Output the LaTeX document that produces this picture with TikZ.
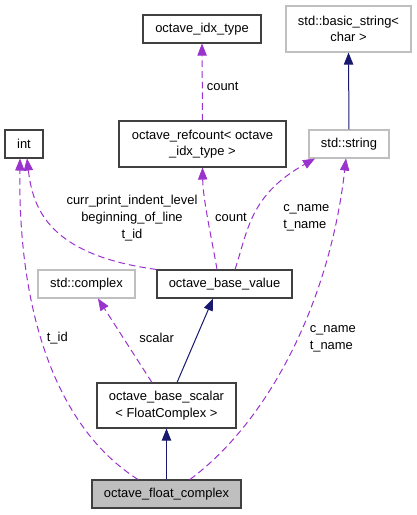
\documentclass[tikz,border=0pt]{standalone}
\usepackage{fontspec}
\setmainfont{Liberation Sans}
\usetikzlibrary{arrows.meta}
\definecolor{boxblack}{HTML}{404040}
\definecolor{boxgray}{HTML}{BFBFBF}
\definecolor{edgepurple}{HTML}{9A32CD}
\definecolor{edgenavy}{HTML}{191970}
\tikzset{
  box/.style={draw=boxblack, line width=0.8pt, inner sep=0pt, align=center,
    font=\fontsize{9.7}{12.5}\selectfont, minimum height=21pt},
  graybox/.style={box, draw=boxgray},
  lbl/.style={inner sep=0pt, font=\fontsize{9.7}{12.5}\selectfont},
  usage/.style={draw=edgepurple, line width=0.75pt, dash pattern=on 5pt off 3pt,
    -{Triangle[length=9pt,width=7pt,fill=edgepurple,line width=0.5pt,sep=0pt]}},
  inherit/.style={draw=edgenavy, line width=0.75pt,
    -{Triangle[length=9pt,width=7pt,fill=edgenavy]}},
}
\begin{document}
\begin{tikzpicture}[x=0.75pt,y=-0.75pt]
\useasboundingbox (0,0) rectangle (417,515);
% nodes
\node[box, minimum width=88.5pt] (idx) at (202,29) {octave\_idx\_type};
\node[graybox, minimum width=93.75pt, minimum height=34.5pt] (bstr) at (348.5,29) {std::basic\_string\textless\\char \textgreater};
\node[box, minimum width=28.5pt] (int) at (24,144) {int};
\node[box, minimum width=125.25pt, minimum height=34.5pt] (refc) at (202.5,144) {octave\_refcount\textless{} octave\\\_idx\_type \textgreater};
\node[graybox, minimum width=60pt] (str) at (349,144) {std::string};
\node[graybox, minimum width=72.75pt] (cplx) at (86.5,284) {std::complex};
\node[box, minimum width=101.25pt] (bval) at (224.5,284) {octave\_base\_value};
\node[box, minimum width=104.25pt, minimum height=33.75pt] (bsc) at (166.5,405.5) {octave\_base\_scalar\\\textless{} FloatComplex \textgreater};
\node[box, fill=boxgray, minimum width=111.75pt] (fc) at (166.5,494) {octave\_float\_complex};
% edges
\draw[usage] (refc.north) -- (idx.south);
\draw[inherit] (str.north) -- (bstr.south);
\draw[usage] (bval.north west) .. controls (50,255) and (33,210) .. ([xshift=2.25pt]int.south);
\draw[usage] ([xshift=-5.6pt]bval.north) .. controls (212,240) and (203,200) .. (refc.south);
\draw[usage] ([xshift=7.9pt]bval.north) .. controls (248,230) and (250,195) .. ([xshift=-25.5pt]str.south);
\draw[usage] ([xshift=17.6pt]fc.north) .. controls (270,420) and (330,300) .. ([xshift=-2.25pt]str.south);
\draw[usage] ([xshift=-21.4pt]fc.north) .. controls (60,430) and (18,320) .. ([xshift=-3pt]int.south);
\draw[usage] ([xshift=-10.9pt]bsc.north) -- ([xshift=8.6pt]cplx.south);
\draw[inherit] ([xshift=7.9pt]bsc.north) -- ([xshift=-8.6pt]bval.south);
\draw[inherit] (fc.north) -- (bsc.south);
% labels
\node[lbl] (l1) at (222.7,86) {count};
\node[lbl, align=center] (l2) at (132,218) {curr\_print\_indent\_level\\beginning\_of\_line\\t\_id};
\node[lbl] (l3) at (231,217.7) {count};
\node[lbl, align=left, anchor=west] (l4) at (283,218) {c\_name\\t\_name};
\node[lbl] (l5) at (57.3,338.3) {t\_id};
\node[lbl] (l6) at (156.7,338.3) {scalar};
\node[lbl, align=left, anchor=west] (l7) at (309.5,339) {c\_name\\t\_name};
\end{tikzpicture}
\end{document}
